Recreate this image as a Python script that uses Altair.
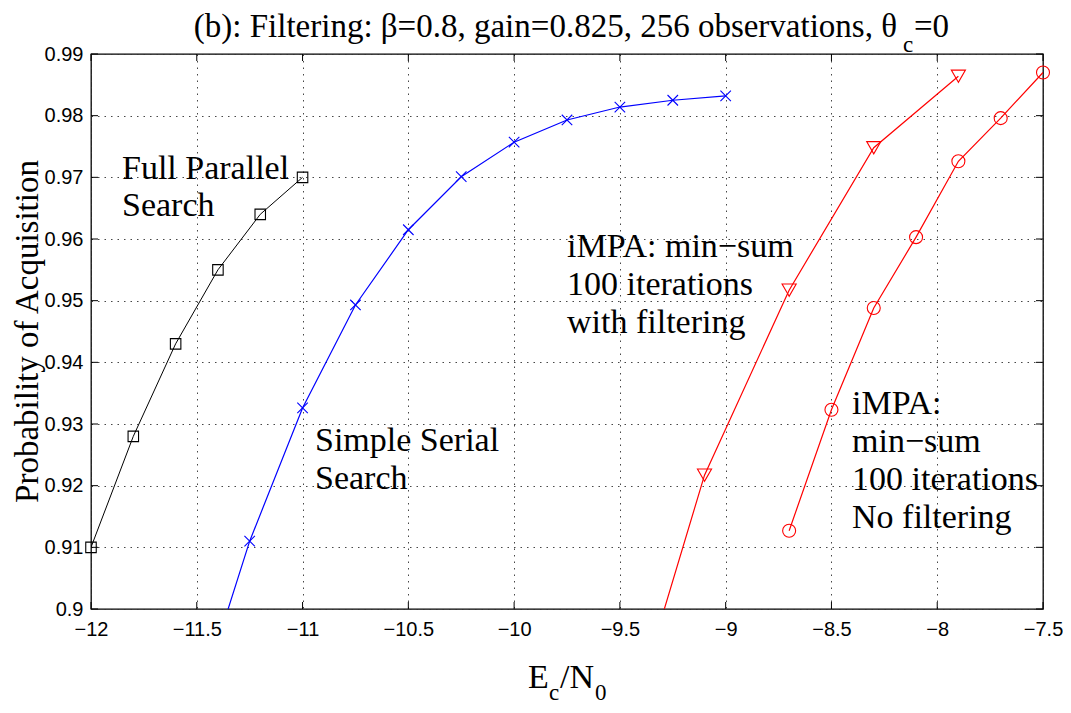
import altair as alt
import pandas as pd

# ---------------- data ----------------
x_ticks = [-12, -11.5, -11, -10.5, -10, -9.5, -9, -8.5, -8, -7.5]
y_ticks = [0.90, 0.91, 0.92, 0.93, 0.94, 0.95, 0.96, 0.97, 0.98, 0.99]

fps_x = [-12.0, -11.8, -11.6, -11.4, -11.2, -11.0]
fps_y = [0.910, 0.928, 0.943, 0.955, 0.964, 0.970]

sss_x = [-11.5, -11.25, -11.0, -10.75, -10.5, -10.25, -10.0, -9.75, -9.5, -9.25, -9.0]
sss_y = [0.884, 0.911, 0.9326, 0.9493, 0.9615, 0.9701, 0.9757, 0.9793, 0.9814, 0.9825, 0.9832]

filt_x = [-9.5, -9.1, -8.7, -8.3, -7.9]
filt_y = [0.876, 0.9217, 0.9517, 0.9748, 0.9864]

nofilt_x = [-8.7, -8.5, -8.3, -8.1, -7.9, -7.7, -7.5]
nofilt_y = [0.9127, 0.9323, 0.9488, 0.9603, 0.9726, 0.9796, 0.9870]

# ---------------- layout ----------------
W, H = 952, 555
X0, Y0 = 91, 54          # page position of the plot area's top-left corner
SERIF = "Liberation Serif"
SANS = "Liberation Sans"

xscale = alt.Scale(domain=[-12, -7.5], nice=False, zero=False)
yscale = alt.Scale(domain=[0.9, 0.99], nice=False, zero=False)
xaxis = alt.Axis(values=x_ticks, format="~g", title=None, grid=True, ticks=False,
                 tickSize=0, domain=False, labelPadding=10, labelFlush=False,
                 labelOverlap=False)
yaxis = alt.Axis(values=y_ticks, format=".2~f", title=None, grid=True, ticks=False,
                 tickSize=0, domain=False, labelPadding=8, labelFlush=False,
                 labelOverlap=False)
X = alt.X("x:Q", scale=xscale, axis=xaxis)
Y = alt.Y("y:Q", scale=yscale, axis=yaxis)


def series(xs, ys, color, shape, size, lw):
    df = pd.DataFrame({"x": xs, "y": ys})
    line = alt.Chart(df).mark_line(color=color, strokeWidth=lw, clip=True).encode(x=X, y=Y)
    pts = (alt.Chart(df).mark_point(shape=shape, size=size, filled=False, color=color,
                                    strokeWidth=1.1, opacity=1)
           .encode(x=X, y=Y).transform_filter("datum.y >= 0.9"))
    return [line, pts]


one = pd.DataFrame({"k": [0]})


def label(txt, px, py, size=34, align="left", angle=0, font=SERIF):
    return alt.Chart(one).mark_text(text=txt, align=align, baseline="alphabetic",
                                    fontSize=size, font=font, angle=angle,
                                    color="black").encode(x=alt.value(px - X0), y=alt.value(py - Y0))


xt = pd.DataFrame({"x": x_ticks})
yt = pd.DataFrame({"y": y_ticks})
TL = 7
ticks = [
    alt.Chart(xt).mark_rule(color="black", strokeWidth=1).encode(x=X, y=alt.value(H), y2=alt.value(H - TL)),
    alt.Chart(xt).mark_rule(color="black", strokeWidth=1).encode(x=X, y=alt.value(0), y2=alt.value(TL)),
    alt.Chart(yt).mark_rule(color="black", strokeWidth=1).encode(y=Y, x=alt.value(0), x2=alt.value(TL)),
    alt.Chart(yt).mark_rule(color="black", strokeWidth=1).encode(y=Y, x=alt.value(W), x2=alt.value(W - TL)),
]

xpath = "M-1,-1L1,1M-1,1L1,-1"
layers = ticks
layers += series(fps_x, fps_y, "black", "square", 110, 1.0)
layers += series(sss_x, sss_y, "#0000ff", xpath, 110, 1.2)
layers += series(filt_x, filt_y, "#ff0000", "triangle-down", 200, 1.2)
layers += series(nofilt_x, nofilt_y, "#ff0000", "circle", 169, 1.2)

texts = [
    # title
    label("(b): Filtering: \u03b2=0.8, gain=0.825, 256 observations, \u03b8", 897, 37, size=33, align="right"),
    label("c", 903, 52, size=23),
    label("=0", 914, 37, size=33),
    # axis titles
    label("E", 528, 688),
    label("c", 549, 700, size=23),
    label("/N", 560, 688),
    label("0", 595, 700, size=23),
    label("Probability of Acquisition", 38, (54 + 609) / 2, size=33, align="center", angle=270),
    # annotations
    label("Full Parallel", 122, 179),
    label("Search", 122, 216),
    label("Simple Serial", 315, 451),
    label("Search", 315, 489),
    label("iMPA: min\u2212sum", 567, 257),
    label("100 iterations", 567, 295),
    label("with filtering", 567, 333),
    label("iMPA:", 852, 414),
    label("min\u2212sum", 852, 452),
    label("100 iterations", 852, 490),
    label("No filtering", 852, 528),
]
layers += texts

chart = (alt.layer(*layers)
         .properties(width=W, height=H, autosize=alt.AutoSizeParams(type="none"),
                     padding={"left": X0 - 8, "top": Y0 - 8, "right": 20, "bottom": 96})
         .configure_view(stroke="black", strokeWidth=1.3)
         .configure_axis(labelFont=SANS, labelFontSize=20, labelColor="black",
                         gridColor="#333333", gridDash=[1.5, 5], gridWidth=1, gridOpacity=0.9))

chart.save("out.html", embed_options={"renderer": "svg", "actions": False})
